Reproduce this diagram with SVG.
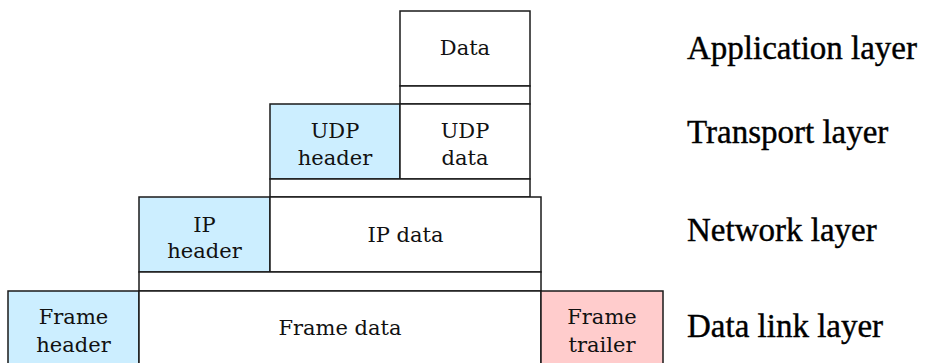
<svg xmlns="http://www.w3.org/2000/svg" width="925" height="363" viewBox="0 0 925 363">
<style>
rect{stroke:#1a1a1a;stroke-width:1.5;fill:#ffffff}
.hdr{fill:#cceeff}
.trl{fill:#ffcccc}
.lbl{font-family:"DejaVu Serif",serif;font-size:21px;fill:#111;text-anchor:middle}
.layer{font-family:"Liberation Serif","Times New Roman",serif;font-size:33px;fill:#000;stroke:#000;stroke-width:0.4}
</style>
<rect x="0" y="0" width="925" height="363" style="stroke:none;fill:#fff"/>
<g id="app-data"><rect x="400" y="11" width="130" height="75"/><text class="lbl" x="465" y="55">Data</text></g>
<g id="app-strip"><rect x="400" y="86" width="130" height="18"/></g>
<g id="udp-header"><rect class="hdr" x="270" y="104" width="130" height="75"/><text class="lbl" x="335" y="138">UDP</text><text class="lbl" x="335" y="165">header</text></g>
<g id="udp-data"><rect x="400" y="104" width="130" height="75"/><text class="lbl" x="465" y="138">UDP</text><text class="lbl" x="465" y="165">data</text></g>
<g id="transport-strip"><rect x="270" y="179" width="260" height="18"/></g>
<g id="ip-header"><rect class="hdr" x="139" y="197" width="131" height="75"/><text class="lbl" x="204.5" y="232">IP</text><text class="lbl" x="204.5" y="258">header</text></g>
<g id="ip-data"><rect x="270" y="197" width="271" height="75"/><text class="lbl" x="405.5" y="242">IP data</text></g>
<g id="network-strip"><rect x="139" y="272" width="402" height="19"/></g>
<g id="frame-header"><rect class="hdr" x="8" y="291" width="131" height="75"/><text class="lbl" x="73.5" y="324">Frame</text><text class="lbl" x="73.5" y="352">header</text></g>
<g id="frame-data"><rect x="139" y="291" width="402" height="75"/><text class="lbl" x="340" y="335">Frame data</text></g>
<g id="frame-trailer"><rect class="trl" x="541" y="291" width="122" height="75"/><text class="lbl" x="602" y="324">Frame</text><text class="lbl" x="602" y="352">trailer</text></g>
<g id="layer-labels">
<text class="layer" x="687" y="59">Application layer</text>
<text class="layer" x="687" y="143">Transport layer</text>
<text class="layer" x="687" y="241">Network layer</text>
<text class="layer" x="687" y="337">Data link layer</text>
</g>
<g id="connectors"></g>
</svg>
